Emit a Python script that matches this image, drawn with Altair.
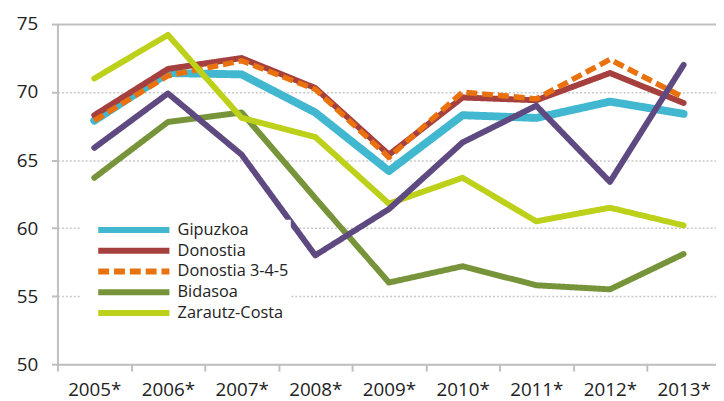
import altair as alt
import pandas as pd

years = ["2005*", "2006*", "2007*", "2008*", "2009*", "2010*", "2011*", "2012*", "2013*"]
series_names = ["Gipuzkoa", "Donostia", "Donostia 3-4-5", "Bidasoa", "Zarautz-Costa", "Serie 6"]
legend_names = ["Gipuzkoa", "Donostia", "Donostia 3-4-5", "Bidasoa", "Zarautz-Costa"]

gipuzkoa = [67.9, 71.4, 71.3, 68.5, 64.2, 68.3, 68.1, 69.3, 68.4]
donostia = [68.3, 71.7, 72.5, 70.3, 65.4, 69.6, 69.4, 71.4, 69.2]
donostia_345 = [67.9, 71.2, 72.3, 70.2, 65.2, 70.0, 69.5, 72.4, 69.6]
bidasoa = [63.7, 67.8, 68.5, 62.2, 56.0, 57.2, 55.8, 55.5, 58.1]
zarautz_costa = [71.0, 74.2, 68.1, 66.7, 61.8, 63.7, 60.5, 61.5, 60.2]
serie_6 = [65.9, 69.9, 65.4, 58.0, 61.4, 66.3, 69.0, 63.4, 72.0]

all_values = [gipuzkoa, donostia, donostia_345, bidasoa, zarautz_costa, serie_6]

rows = []
for name, vals in zip(series_names, all_values):
    for yr, v in zip(years, vals):
        rows.append({"year": yr, "series": name, "value": v})
df = pd.DataFrame(rows)

colors = ["#42B7D0", "#A5403E", "#E9720E", "#77943B", "#BDD01A", "#5E4A80"]
widths = [8, 6, 5.5, 6, 6, 6]
dashes = [[1, 0], [1, 0], [11, 5], [1, 0], [1, 0], [1, 0]]

FONT = "Open Sans"
TXT = "#222222"
AX = "#BFBFBF"

legend_obj = alt.Legend(
    title=None,
    values=legend_names,
    orient="none",
    legendX=24,
    legendY=198,
    fillColor="white",
    padding=2,
    symbolType="M2.3333,0H26.3333",
    symbolSize=36,
    symbolStrokeWidth=6,
    labelOffset=79,
    labelFontSize=16.5,
    labelFont=FONT,
    labelColor=TXT,
    labelExpr="datum.label + '\u2002\u2002'",
    rowPadding=-5,
    direction="vertical",
)

x_enc = alt.X(
    "year:N",
    sort=years,
    scale=alt.Scale(type="band", domain=years, range=[0, 670.5], paddingInner=0, paddingOuter=0),
    axis=alt.Axis(
        title=None, labelAngle=0, tickBand="extent", grid=False,
        domainColor=AX, domainWidth=2, tickColor=AX, tickWidth=2, tickSize=7,
        labelFont=FONT, labelFontSize=19, labelColor=TXT, labelPadding=10,
    ),
)
y_enc = alt.Y(
    "value:Q",
    scale=alt.Scale(domain=[50, 75], nice=False, zero=False),
    axis=alt.Axis(
        title=None, values=[50, 55, 60, 65, 70, 75], grid=True,
        gridDash={"condition": {"test": "datum.value === 75", "value": []}, "value": [2, 2]},
        gridColor={"condition": {"test": "datum.value === 75", "value": AX}, "value": "#C8C8C8"},
        gridWidth={"condition": {"test": "datum.value === 75", "value": 2}, "value": 1.5},
        domainColor=AX, domainWidth=2, tickColor=AX, tickWidth=2, tickSize=6,
        labelFont=FONT, labelFontSize=19, labelColor=TXT, labelPadding=14,
    ),
)
color_enc = alt.Color("series:N", scale=alt.Scale(domain=series_names, range=colors), legend=legend_obj)
dash_enc = alt.StrokeDash("series:N", scale=alt.Scale(domain=series_names, range=dashes), legend=legend_obj)

layers = []
for i, name in enumerate(series_names):
    dashed = dashes[i][1] > 0
    layers.append(
        alt.Chart(df)
        .transform_filter(alt.datum.series == name)
        .mark_line(strokeWidth=widths[i], strokeCap="butt" if dashed else "round", strokeJoin="round")
        .encode(x=x_enc, y=y_enc, color=color_enc, strokeDash=dash_enc)
    )

chart = (
    alt.layer(*layers)
    .properties(
        width=666, height=344,
        autosize=alt.AutoSizeParams(type="none"),
        padding={"left": 50, "top": 14, "right": 0, "bottom": 35},
    )
    .configure_view(stroke=None)
    .configure(background="white")
)

chart.save("out.html", embed_options={"renderer": "svg", "actions": False})
